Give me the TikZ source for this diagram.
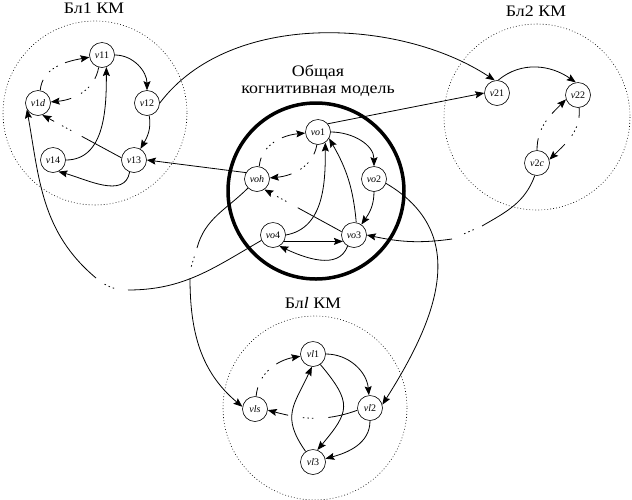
\documentclass[tikz,border=0pt]{standalone}
\usepackage{fontspec}
\setmainfont{Liberation Serif}
\newfontfamily\titlefont[FakeStretch=1.12]{Liberation Serif}
\usetikzlibrary{arrows.meta}
\begin{document}
\begin{tikzpicture}[x=1pt,y=-1pt,
  vnode/.style={circle, draw, line width=0.6pt, minimum size=25pt, inner sep=0pt, font=\fontsize{10}{10}\selectfont},
  edge/.style={line width=0.8pt},
  arr/.style={edge, -{Stealth[length=9pt,width=7pt,inset=1.5pt]}},
  gapat/.style n args={3}{dash pattern=on #1 off #2 on 1.5pt off 3pt on 1.5pt off 3pt on 1.5pt off #3 on 1000pt},
  threedots/.style={edge, dash pattern=on 0pt off #1 on 1.5pt off 3pt on 1.5pt off 3pt on 1.5pt off 1000pt},
  cluster/.style={draw, line width=0.6pt, dash pattern=on 0.8pt off 2.2pt},
  title/.style={font=\titlefont\fontsize{16}{18}\selectfont, anchor=base, inner sep=0pt}]
\useasboundingbox (0,0) rectangle (632,499);

% cluster circles
\draw[cluster] (95,113) circle[radius=92];
\draw[cluster] (537,117) circle[radius=93];
\draw[cluster] (315,408) circle[radius=92];
\draw[line width=3.5pt] (316,191) circle[radius=88];

% titles
\node[title] (t1) at (94,13.3) {Бл1 КМ};
\node[title] (t2) at (536,16.5) {Бл2 КМ};
\node[title] (t3) at (313,308) {Бл\textit{l} КМ};
\node[title] (t0a) at (318,76) {Общая};
\node[title] (t0b) at (318,93) {когнитивная модель};

% nodes
\node[vnode] (v11) at (102,55) {\textit{v}11};
\node[vnode] (v12) at (147,103) {\textit{v}12};
\node[vnode] (v13) at (134,160) {\textit{v}13};
\node[vnode] (v14) at (53,160) {\textit{v}14};
\node[vnode] (v1d) at (38,103) {\textit{v}1\textit{d}};

\node[vnode] (vo1) at (318,132) {\textit{vo}1};
\node[vnode] (vo2) at (374,179) {\textit{vo}2};
\node[vnode] (vo3) at (354,235) {\textit{vo}3};
\node[vnode] (vo4) at (273,235) {\textit{vo}4};
\node[vnode] (voh) at (257,179) {\textit{voh}};

\node[vnode] (v21) at (497,93) {\textit{v}21};
\node[vnode] (v22) at (578,95) {\textit{v}22};
\node[vnode] (v2c) at (537,163) {\textit{v}2\textit{c}};

\node[vnode] (vl1) at (313,354) {\textit{vl}1};
\node[vnode] (vl2) at (370,408) {\textit{vl}2};
\node[vnode] (vl3) at (313,462) {\textit{vl}3};
\node[vnode] (vls) at (255,409) {\textit{vls}};

% Bl1 edges
\draw[arr] (v11) to[out=0,in=90] (v12);
\draw[arr] (v12) to[out=-80,in=60] (v13);
\draw[arr] (v13.-110) to[out=-100,in=-15] (v14.-65);
\draw[arr] (v14.east) to[out=0,in=-90] (v11.-70);
\draw[arr,gapat={45pt}{12pt}{9pt}] (v13.170) -- (v1d.-70);
\draw[arr,gapat={12pt}{10pt}{11pt}] (v11.-105) to[out=-100,in=5] (v1d);
\draw[arr,gapat={11pt}{10pt}{8pt}] (v1d.80) to[out=85,in=190] (v11);

% central edges
\draw[arr] (vo1) to[out=0,in=90] (vo2);
\draw[arr] (vo2) to[out=-90,in=55] (vo3);
\draw[arr] (vo3.-120) to[out=-110,in=-25] (vo4.-60);
\draw[arr] (vo4.-30) -- (vo3.-150);
\draw[arr] (vo4.east) to[out=10,in=-90] (vo1.-55);
\draw[arr] (vo3.80) to[out=95,in=-60] (vo1.-30);
\draw[arr,gapat={50pt}{13pt}{12pt}] (vo3.165) -- (voh.-55);
\draw[arr,gapat={10pt}{10pt}{10pt}] (vo1.-95) to[out=-100,in=5] (voh);
\draw[arr,gapat={9pt}{10pt}{9pt}] (voh.80) to[out=85,in=185] (vo1);

% Bl2 edges
\draw[arr] (v21.85) to[out=40,in=145] (v22.100);
\draw[arr,gapat={10pt}{9pt}{11pt}] (v22.-85) to[out=-85,in=45] (v2c.15);
\draw[arr,gapat={12pt}{9pt}{9pt}] (v2c.90) to[out=90,in=225] (v22.200);

% Bl l edges
\draw[arr] (vl1) to[out=0,in=95] (vl2);
\draw[arr] (vl2) to[out=-90,in=15] (vl3);
\draw[arr] (vl1.-55) to[out=-50,in=50,looseness=1.5] (vl3.70);
\draw[arr] (vl3.125) to[out=125,in=-115,looseness=1.3] (vl1.-95);
\draw[arr,gapat={9pt}{10pt}{10pt}] (vls.85) to[out=85,in=190] (vl1);
\draw[arr,gapat={30pt}{15pt}{15pt}] (vl2.190) to[out=200,in=-15] (vls.-5);

% long connectors
\draw[arr] (v12.east) .. controls (230,10) and (400,18) .. (v21.100);
\draw[arr] (vo1.40) -- (v21.west);
\draw[arr] (voh.150) -- (v13.east);
\draw[arr] (vo2.-20) .. controls (472,234) and (436,320) .. (vl2.15);

\coordinate (a1) at (128,290);
\coordinate (a2) at (96,278);
\draw[edge] (vo4.205) to[out=210,in=0] (a1);
\draw[threedots=14pt] (a1) to[out=180,in=-40] (a2);
\draw[arr] (a2) to[out=140,in=-80] (v1d.-150);

\coordinate (b1) at (197,248);
\coordinate (b2) at (190,278);
\draw[edge] (voh.225) to[out=225,in=75] (b1);
\draw[threedots=9pt] (b1) to[out=-105,in=90] (b2);
\draw[arr] (b2) to[out=-90,in=140] (vls.170);

\coordinate (c1) at (482,226);
\coordinate (c2) at (452,239);
\draw[edge] (v2c.-100) to[out=-110,in=30] (c1);
\draw[threedots=9pt] (c1) -- (c2);
\draw[arr] (c2) to[out=188,in=-12] (vo3.east);
\end{tikzpicture}
\end{document}
